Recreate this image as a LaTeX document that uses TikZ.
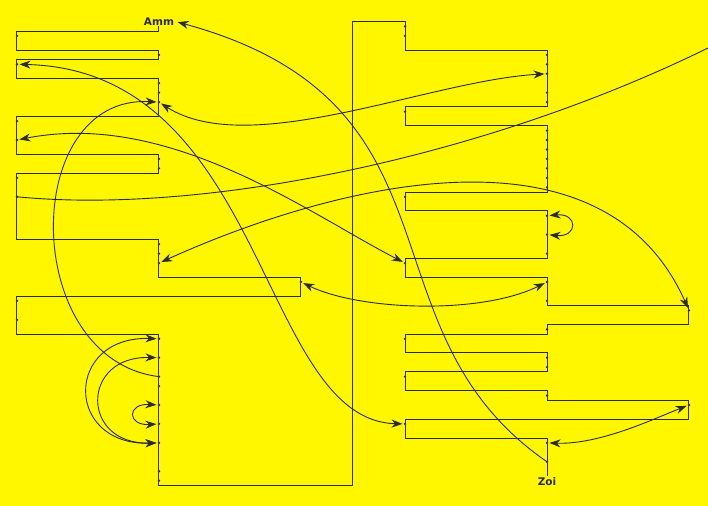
\documentclass[tikz,border=0pt]{standalone}
\usepackage{fontspec}
\setmainfont{DejaVu Sans}
\usetikzlibrary{arrows.meta,positioning}
\definecolor{Canary}{HTML}{FFF700}
\definecolor{Ink}{HTML}{2B2B2B}
\tikzset{
  track/.style={draw=Ink,line width=1pt,line join=miter},
  tickdot/.style={fill=Ink},
  link/.style={draw=Ink,line width=0.9pt},
  onehead/.style={link,-{Stealth[length=11pt,width=8pt]},shorten >=2.5pt},
  twohead/.style={
    link,{Stealth[length=11pt,width=8pt]}-{Stealth[length=11pt,width=8pt]},
    shorten >=2.5pt,shorten <=2.5pt
  },
  tag/.style={font=\bfseries\fontsize{10.5}{12}\selectfont,text=Ink,inner sep=1pt}
}

\begin{document}
\begin{tikzpicture}[x=9.464pt,y=-9.464pt]
  \fill[Canary] (-1.796,-2.293) rectangle (73.01,51.17);
  \useasboundingbox (-1.796,-2.293) rectangle (73.01,51.17);
  \coordinate (top) at (15,0.5);
  \coordinate (bot) at (56,48);
  \draw[track] (top) -- (15,1) -- (0,1) -- (0,3) -- (15,3) -- (15,4) -- (0,4)
    -- (0,6) -- (15,6) -- (15,10) -- (0,10) -- (0,14) -- (15,14) -- (15,16)
    -- (0,16) -- (0,23) -- (15,23) -- (15,27) -- (30,27) -- (30,29) -- (0,29)
    -- (0,33) -- (15,33) -- (15,49) -- (35.5,49) -- (35.5,0) -- (41,0) -- (41,3)
    -- (56,3) -- (56,9) -- (41,9) -- (41,11) -- (56,11) -- (56,18) -- (41,18)
    -- (41,20) -- (56,20) -- (56,25) -- (41,25) -- (41,27) -- (56,27) -- (56,30)
    -- (71,30) -- (71,32) -- (56,32) -- (56,33) -- (41,33) -- (41,35) -- (56,35)
    -- (56,37) -- (41,37) -- (41,39) -- (56,39) -- (56,40) -- (71,40) -- (71,42)
    -- (41,42) -- (41,44) -- (56,44) -- (bot);
  \foreach \n in {1.5,4.5,10.5,12.5,16.5,18.5,29.5,31.5}
    \fill[tickdot] (0,\n) circle (1.3pt);
  \foreach \n in {3.5,6.5,7.5,8.5,14.5,15.5,23.5,24.5,25.5,33.5,35.5,37.5,38.5,40.5,42.5,44.5,47.5,48.5}
    \fill[tickdot] (15,\n) circle (1.3pt);
  \fill[tickdot] (30,27.5) circle (1.3pt);
  \foreach \n in {0.5,1.5,9.5,18.5,25.5,33.5,37.5,42.5}
    \fill[tickdot] (41,\n) circle (1.3pt);
  \foreach \n in {3.5,4.5,5.5,7.5,8.5,11.5,12.5,13.5,14.5,15.5,16.5,17.5,20.5,22.5,24.5,27.5,29.5,32.5,35.5,36.5,39.5,44.5,46.5}
    \fill[tickdot] (56,\n) circle (1.3pt);
  \foreach \n in {30.5,40.5}
    \fill[tickdot] (71,\n) circle (1.3pt);
  \node[tag,above=0pt of top] (amm) {Amm};
  \node[tag,below=0pt of bot] (zoi) {Zoi};
  \coordinate (l45) at (0,4.5);
  \coordinate (l125) at (0,12.5);
  \coordinate (l185) at (0,18.5);
  \coordinate (m85) at (15,8.5);
  \coordinate (m255) at (15,25.5);
  \coordinate (m335) at (15,33.5);
  \coordinate (m355) at (15,35.5);
  \coordinate (m375) at (15,37.5);
  \coordinate (m405) at (15,40.5);
  \coordinate (m425) at (15,42.5);
  \coordinate (m445) at (15,44.5);
  \coordinate (w275) at (30,27.5);
  \coordinate (r255) at (41,25.5);
  \coordinate (r425) at (41,42.5);
  \coordinate (s55) at (56,5.5);
  \coordinate (s205) at (56,20.5);
  \coordinate (s225) at (56,22.5);
  \coordinate (s275) at (56,27.5);
  \coordinate (s445) at (56,44.5);
  \coordinate (s465) at (56,46.5);
  \coordinate (t305) at (71,30.5);
  \coordinate (t405) at (71,40.5);
  \coordinate (fout) at (73.01,2.78);
  \draw[onehead] (s465) .. controls (35.7,32.5) and (48.4,8.6) .. (amm.east);
  \draw[twohead] (l45) .. controls (26.4,5.1) and (25.6,42.1) .. (r425);
  \draw[onehead] (m375) .. controls (0.3,35.7) and (0.3,7.7) .. (m85);
  \draw[twohead] (m85) .. controls (24.6,14.6) and (43.6,6.2) .. (s55);
  \draw[twohead] (l125) .. controls (16.2,9.3) and (31,20.4) .. (r255);
  \draw[link] (l185) .. controls (19.3,20.4) and (48.9,14.6) .. (fout);
  \draw[twohead] (m255) .. controls (32,17.8) and (61.6,9.3) .. (t305);
  \draw[twohead] (w275) .. controls (36.2,30.5) and (48.9,31) .. (s275);
  \draw[twohead] (s205) .. controls (59.3,20.2) and (59.3,22.8) .. (s225);
  \draw[twohead] (m335) .. controls (5,33.2) and (5,44.8) .. (m445);
  \draw[twohead] (m355) .. controls (6.7,35.3) and (6.7,44.7) .. (m445);
  \draw[twohead] (m405) .. controls (11.6,40.3) and (11.6,42.7) .. (m425);
  \draw[twohead] (s445) .. controls (61.6,44.7) and (67.4,41.9) .. (t405);
\end{tikzpicture}
\end{document}
